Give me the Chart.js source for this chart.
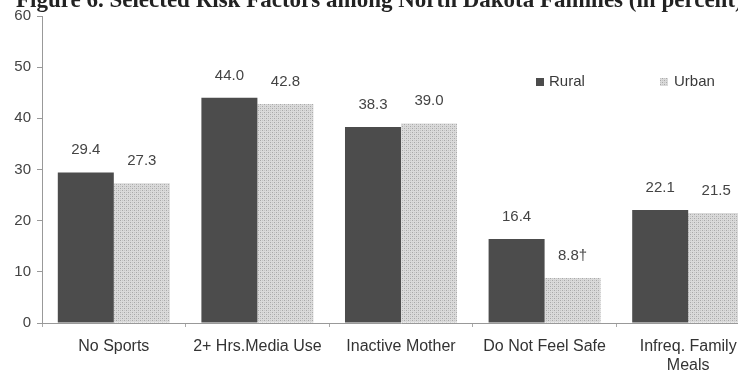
<!DOCTYPE html>
<html>
<head>
<meta charset="utf-8">
<script src="https://cdn.jsdelivr.net/npm/chart.js@4"></script>
<style>
  html, body { margin: 0; padding: 0; background: #fff; overflow: hidden; }
  #wrap { width: 760px; height: 387px; }
</style>
</head>
<body>
<div id="wrap"><canvas id="myChart" width="760" height="387"></canvas></div>
<script>
const categories = ['No Sports', '2+ Hrs.Media Use', 'Inactive Mother', 'Do Not Feel Safe', ['Infreq. Family', 'Meals']];
const rural = [29.4, 44.0, 38.3, 16.4, 22.1];
const urban = [27.3, 42.8, 39.0, 8.8, 21.5];
const ruralLabels = ['29.4', '44.0', '38.3', '16.4', '22.1'];
const urbanLabels = ['27.3', '42.8', '39.0', '8.8\u2020', '21.5'];
const yTicks = [0, 10, 20, 30, 40, 50, 60];
const titleHead = 'Figure 6. Selected Risk Factors among North Dakota ';
const titleTail = 'Families (in percent)';

const textFont = '"Liberation Sans", Arial, sans-serif';

// dotted light grey like the scanned print
function urbanPattern() {
    const c = document.createElement('canvas');
    c.width = 4; c.height = 4;
    const g = c.getContext('2d');
    g.fillStyle = '#dadada';
    g.fillRect(0, 0, 4, 4);
    g.fillStyle = '#a8a8a8';
    g.fillRect(0, 0, 1, 1);
    g.fillRect(2, 2, 1, 1);
    g.fillStyle = '#c4c4c4';
    g.fillRect(2, 0, 1, 1);
    g.fillRect(0, 2, 1, 1);
    return g.createPattern(c, 'repeat');
}
const ruralColor = '#4c4c4c';
const urbanFill = urbanPattern();

const valueLabels = {
    id: 'valueLabels',
    afterDatasetsDraw(chart) {
        const ctx = chart.ctx;
        ctx.save();
        ctx.font = '15px ' + textFont;
        ctx.fillStyle = '#444';
        ctx.textAlign = 'center';
        ctx.textBaseline = 'bottom';
        [ruralLabels, urbanLabels].forEach((labels, di) => {
            chart.getDatasetMeta(di).data.forEach((bar, i) => {
                ctx.fillText(labels[i], bar.x, bar.y - 15);
            });
        });
        ctx.restore();
    }
};

const legendAndTitle = {
    id: 'legendAndTitle',
    afterDraw(chart) {
        const ctx = chart.ctx;
        ctx.save();
        // title, only its lower half survived the scan
        ctx.font = 'bold 23px "Liberation Serif", "Times New Roman", serif';
        ctx.fillStyle = '#222';
        ctx.textAlign = 'left';
        ctx.textBaseline = 'alphabetic';
        const headW = ctx.measureText(titleHead).width;
        ctx.fillText(titleHead + titleTail, 540 - headW, 7);
        // legend
        ctx.font = '15px ' + textFont;
        ctx.textBaseline = 'middle';
        ctx.fillStyle = ruralColor;
        ctx.fillRect(536, 78, 8, 8);
        ctx.fillStyle = urbanFill;
        ctx.fillRect(660, 78, 8, 8);
        ctx.fillStyle = '#3a3a3a';
        ctx.fillText('Rural', 549, 82);
        ctx.fillText('Urban', 674, 82);
        ctx.restore();
    }
};

const ctx = document.getElementById('myChart').getContext('2d');

const myChart = new Chart(ctx, {
    type: 'bar',
    data: {
        labels: categories,
        datasets: [
            {
                label: 'Rural',
                data: rural,
                backgroundColor: ruralColor,
                borderWidth: 0,
                barPercentage: 1.0,
                categoryPercentage: 0.78
            },
            {
                label: 'Urban',
                data: urban,
                backgroundColor: urbanFill,
                borderWidth: 0,
                barPercentage: 1.0,
                categoryPercentage: 0.78
            }
        ]
    },
    plugins: [valueLabels, legendAndTitle],
    options: {
        responsive: false,
        animation: false,
        layout: { padding: { top: 16, right: 0, left: 0, bottom: 0 } },
        plugins: {
            legend: { display: false },
            tooltip: { enabled: false }
        },
        scales: {
            x: {
                grid: { drawOnChartArea: false, drawTicks: true, tickLength: 4, color: '#aaa' },
                border: { color: '#999', width: 1 },
                ticks: {
                    color: '#333',
                    font: { family: textFont, size: 16 },
                    padding: 10,
                    maxRotation: 0,
                    autoSkip: false
                },
                afterFit(scale) { scale.height = 64; }
            },
            y: {
                min: 0,
                max: 60,
                grid: { drawOnChartArea: false, drawTicks: true, tickLength: 5, color: '#999' },
                border: { color: '#999', width: 1 },
                afterBuildTicks(scale) { scale.ticks = yTicks.map(v => ({ value: v })); },
                ticks: {
                    color: '#444',
                    font: { family: textFont, size: 15 },
                    padding: 6
                },
                afterFit(scale) { scale.width = 42; }
            }
        }
    }
});
</script>
</body>
</html>
